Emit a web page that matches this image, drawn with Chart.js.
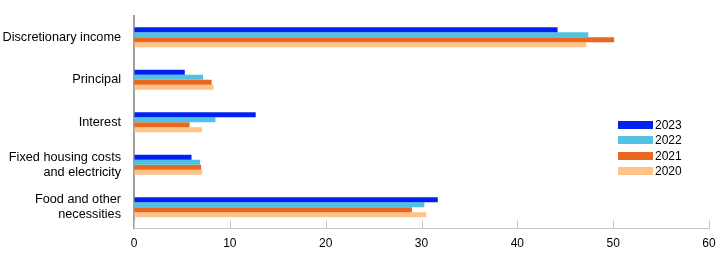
<!DOCTYPE html>
<html>
<head>
<meta charset="utf-8">
<script src="https://cdn.jsdelivr.net/npm/chart.js@4.4.1/dist/chart.umd.min.js"></script>
<style>
  html, body { margin: 0; padding: 0; background: #fff; }
  #wrap { position: relative; width: 722px; height: 259px; }
  #legend { position: absolute; left: 618px; top: 118px; font: 12px "Liberation Sans", Arial, sans-serif; color: #000; }
  #legend div { height: 15.3px; line-height: 15px; white-space: nowrap; }
  #legend span { display: inline-block; width: 35px; height: 8px; margin-right: 2px; }
</style>
</head>
<body>
<div id="wrap">
  <canvas id="chart_Spend" width="722" height="259"></canvas>
  <div id="legend"></div>
</div>
<script>
var categories = ["Discretionary income", "Principal", "Interest", ["Fixed housing costs", "and electricity"], ["Food and other", "necessities"]];
var years = ["2023", "2022", "2021", "2020"];
var colors = ["#0022ee", "#52c2e2", "#e8681f", "#ffc288"];
var values2023 = [44.2, 5.3, 12.7, 6.0, 31.7];
var values2022 = [47.4, 7.2, 8.5, 6.9, 30.3];
var values2021 = [50.1, 8.1, 5.8, 7.0, 29.0];
var values2020 = [47.2, 8.3, 7.1, 7.1, 30.5];
var xTicks = [0, 10, 20, 30, 40, 50, 60];

var allValues = [values2023, values2022, values2021, values2020];
var datasets = [];
for (var i = 0; i < years.length; i++) {
    datasets.push({
        label: years[i],
        backgroundColor: colors[i],
        data: allValues[i],
        barPercentage: 1,
        categoryPercentage: 0.47
    });
}

// small tick marks pointing up into the plot, like the original
var innerTicks = {
    id: 'innerTicks',
    afterDraw: function (chart) {
        var ctx = chart.ctx;
        var x = chart.scales.x;
        var bottom = chart.chartArea.bottom;
        ctx.save();
        ctx.strokeStyle = "#c8c8c8";
        ctx.lineWidth = 1;
        for (var i = 0; i < xTicks.length; i++) {
            var px = Math.round(x.getPixelForValue(xTicks[i])) + 0.5;
            ctx.beginPath();
            ctx.moveTo(px, bottom - 8);
            ctx.lineTo(px, bottom);
            ctx.stroke();
        }
        ctx.restore();
    }
};

Chart.defaults.font.family = '"Liberation Sans", Arial, sans-serif';
Chart.defaults.font.size = 12;
Chart.defaults.color = "#000";

new Chart(document.getElementById("chart_Spend"), {
    type: 'bar',
    data: {
        labels: categories,
        datasets: datasets
    },
    options: {
        indexAxis: 'y',
        responsive: false,
        animation: false,
        layout: { padding: { left: 0, right: 13, top: 16, bottom: 0 } },
        plugins: {
            legend: { display: false },
            tooltip: { enabled: false }
        },
        scales: {
            x: {
                min: 0,
                max: 60,
                afterBuildTicks: function (scale) {
                    scale.ticks = xTicks.map(function (v) { return { value: v }; });
                },
                grid: { display: true, drawOnChartArea: false, drawTicks: false },
                border: { display: true, color: "#c8c8c8", width: 1 },
                ticks: { padding: 8, maxRotation: 0 },
                afterFit: function (scale) {
                    scale.height = 30.5;
                    scale.paddingLeft = 0;
                    scale.paddingRight = 0;
                }
            },
            y: {
                grid: { display: false, drawTicks: false },
                border: { display: true, color: "#a0a0a0", width: 2 },
                ticks: { padding: 13, autoSkip: false, font: { size: 12.7 } },
                afterFit: function (scale) {
                    scale.width = 134;
                    scale.paddingTop = 0;
                    scale.paddingBottom = 0;
                }
            }
        }
    },
    plugins: [innerTicks]
});

var legendBox = document.getElementById("legend");
for (var j = 0; j < years.length; j++) {
    legendBox.innerHTML += '<div><span style="background:' + colors[j] + '"></span>' + years[j] + '</div>';
}
</script>
</body>
</html>
